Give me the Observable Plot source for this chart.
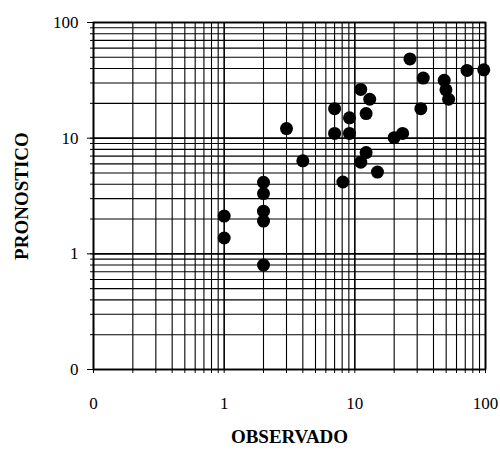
<!DOCTYPE html>
<html>
<head>
<meta charset="utf-8">
<script src="https://cdn.jsdelivr.net/npm/d3@7"></script>
<script src="https://cdn.jsdelivr.net/npm/@observablehq/plot@0.6"></script>
<style>
  html, body { margin: 0; padding: 0; background: #fff; }
</style>
</head>
<body>
<div id="chart"></div>
<script>
// Observed (x) and forecast (y) values
const observado = [1, 1, 2, 2, 2, 2, 2, 3, 4, 7, 7, 8.1, 9.1, 9.1, 11.1, 11.1, 12.2, 12.2, 13, 14.9, 20, 23.2, 26.4, 32, 33.4, 48.3, 49.8, 52.2, 72.2, 97];
const pronostico = [2.12, 1.37, 4.15, 3.32, 2.34, 1.92, 0.80, 12.1, 6.37, 18.0, 11.0, 4.18, 15.0, 11.0, 26.4, 6.2, 16.3, 7.5, 21.7, 5.09, 10.1, 11.0, 48.4, 18.0, 33.1, 31.6, 26.2, 21.7, 38.5, 39.0];

// Axis ticks
const decadeTicks = [0.1, 1, 10, 100];
const decadeLabels = ["0", "1", "10", "100"];
const gridMultipliers = [1, 2, 3, 4, 5, 6, 7, 8, 9];

const xLabel = "OBSERVADO";
const yLabel = "PRONOSTICO";

const points = observado.map((o, i) => ({obs: o, pred: pronostico[i]}));
const gridTicks = [];
for (const d of [0.1, 1, 10]) for (const m of gridMultipliers) gridTicks.push(+(d * m).toPrecision(3));
gridTicks.push(100);
const minorTicks = gridTicks.filter(t => !decadeTicks.includes(t));
const fmt = d => decadeLabels[decadeTicks.indexOf(d)];

const chart = Plot.plot({
  width: 500,
  height: 450,
  marginLeft: 93,
  marginRight: 15,
  marginTop: 22,
  marginBottom: 81,
  style: {fontFamily: "'Liberation Serif', 'Times New Roman', serif", background: "#fff", color: "#000"},
  x: {type: "log", domain: [0.1, 100]},
  y: {type: "log", domain: [0.1, 100]},
  marks: [
    Plot.ruleX(minorTicks, {stroke: "#000", strokeWidth: 1.1}),
    Plot.ruleY(minorTicks, {stroke: "#000", strokeWidth: 1.1}),
    Plot.ruleX(decadeTicks, {stroke: "#000", strokeWidth: 1.6}),
    Plot.ruleY(decadeTicks, {stroke: "#000", strokeWidth: 1.6}),
    Plot.frame({stroke: "#000", strokeWidth: 1.6}),
    Plot.axisX(gridTicks, {tickSize: 4, tickFormat: () => "", label: null, strokeWidth: 1}),
    Plot.axisY(gridTicks, {tickSize: 3, tickFormat: () => "", label: null, strokeWidth: 1}),
    Plot.axisX(decadeTicks, {tickSize: 0, tickPadding: 27, tickFormat: fmt, fontSize: 17, label: null}),
    Plot.axisY(decadeTicks, {tickSize: 6, tickPadding: 9, tickFormat: fmt, fontSize: 17, label: null}),
    Plot.text([xLabel], {frameAnchor: "bottom", dy: 73, text: d => d, fontSize: 19, fontWeight: "bold"}),
    Plot.text([yLabel], {frameAnchor: "left", dx: -72, rotate: -90, textAnchor: "middle", text: d => d, fontSize: 19, fontWeight: "bold"}),
    Plot.dot(points, {x: "obs", y: "pred", r: 6.5, fill: "#000", stroke: "none"})
  ]
});
document.getElementById("chart").appendChild(chart);
</script>
</body>
</html>
